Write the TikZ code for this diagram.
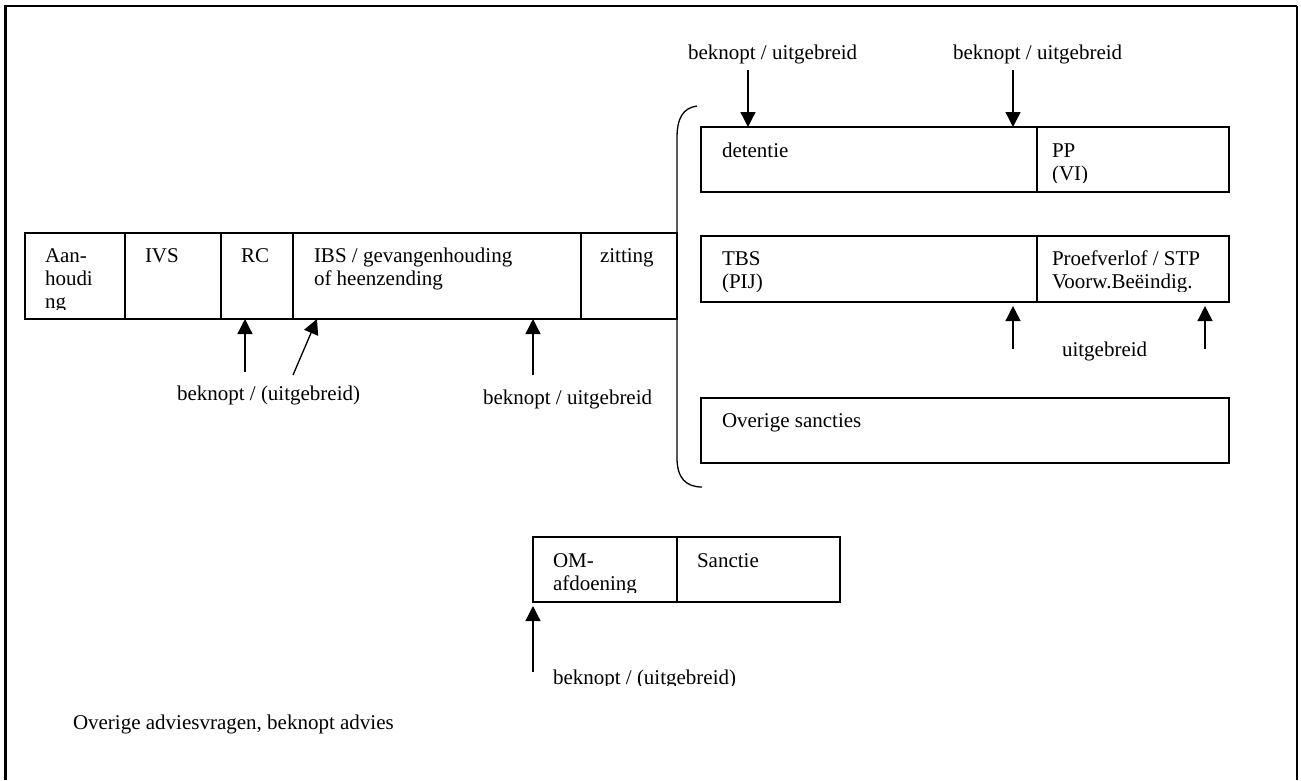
\documentclass[tikz,border=0pt]{standalone}
\usepackage{fontspec}
\setmainfont{Liberation Serif}
\usetikzlibrary{arrows.meta}
\begin{document}
\begin{tikzpicture}[x=1pt,y=-1pt,
  cell/.style={draw, line width=1.3pt, inner sep=0pt, outer sep=0pt, anchor=north west},
  txt/.style={anchor=base west, inner sep=0pt, outer sep=0pt, font=\fontsize{21}{23}\selectfont},
  arr/.style={line width=1.3pt, -{Triangle[length=15pt,width=15pt]}},
  brace/.style={line width=1.3pt},
  frame/.style={line width=2.5pt},
]
\useasboundingbox (0,0) rectangle (1301,780);
\fill[white] (0,0) rectangle (1301,780);
% outer frame
\draw[frame] (5.5,780) -- (5.5,6) -- (1297,6);
\draw[line width=1.6pt] (1297,6) -- (1297,780);

% main row
\node[cell, minimum width=100pt, minimum height=86pt] (aan) at (25,233) {};
\node[cell, minimum width=96pt, minimum height=86pt] (ivs) at (125,233) {};
\node[cell, minimum width=72pt, minimum height=86pt] (rc) at (221,233) {};
\node[cell, minimum width=288pt, minimum height=86pt] (ibs) at (293,233) {};
\node[cell, minimum width=96pt, minimum height=86pt] (zit) at (581,233) {};

\node[txt] (aan1) at (45,262) {Aan-};
\node[txt] (aan2) at (45,285) {houdi};
\begin{scope}
  \clip (25,233) rectangle (125,309);
  \node[txt] (aan3) at (45,308) {ng};
\end{scope}
\node[txt] (ivst) at (145,262) {IVS};
\node[txt] (rct) at (241,262) {RC};
\node[txt] (ibs1) at (314,262) {IBS / gevangenhouding};
\node[txt] (ibs2) at (314,285) {of heenzending};
\node[txt] (zitt) at (600,262) {zitting};

% brace
\draw[brace] (697,106) .. controls (683,108) and (677,118) .. (677,138) -- (677,458) .. controls (677,478) and (686,487) .. (702,487);

% right boxes
\node[cell, minimum width=336pt, minimum height=65pt] (det) at (701,127) {};
\node[cell, minimum width=192pt, minimum height=65pt] (pp) at (1037,127) {};
\node[cell, minimum width=336pt, minimum height=66pt] (tbs) at (701,236) {};
\node[cell, minimum width=192pt, minimum height=66pt] (proef) at (1037,236) {};
\node[cell, minimum width=528pt, minimum height=65pt] (ovs) at (701,398) {};

\node[txt] (dett) at (722,157) {detentie};
\node[txt] (pp1) at (1052,157) {PP};
\begin{scope}
  \clip (1037,127) rectangle (1229,182);
  \node[txt] (pp2) at (1052,180) {(VI)};
\end{scope}
\node[txt] (tbs1) at (722,265) {TBS};
\node[txt] (pr1) at (1052,265) {Proefverlof / STP};
\begin{scope}
  \clip (701,236) rectangle (1229,291);
  \node[txt] (tbs2) at (722,288) {(PIJ)};
  \node[txt] (pr2) at (1052,288) {Voorw.Beëindig.};
\end{scope}
\node[txt] (ovst) at (722,427) {Overige sancties};

% top labels and arrows
\node[txt] (topA) at (688,59) {beknopt / uitgebreid};
\node[txt] (topB) at (953,59) {beknopt / uitgebreid};
\coordinate (ta) at (748,70);
\coordinate (tb) at (1013,70);
\draw[arr] (ta) -- ([xshift=47pt]det.north west);
\draw[arr] (tb) -- ([xshift=312pt]det.north west);

% arrows under TBS row
\coordinate (ua) at (1013,349);
\coordinate (ub) at (1205,349);
\draw[arr] (ua) -- ([xshift=312pt,yshift=-4pt]tbs.south west);
\draw[arr] (ub) -- ([xshift=168pt,yshift=-4pt]proef.south west);
\node[txt] (uitg) at (1062,356) {uitgebreid};

% arrows under main row
\coordinate (m1) at (245,372);
\coordinate (m2) at (293,375);
\coordinate (m3) at (533,375);
\draw[arr] (m1) -- ([xshift=24pt]rc.south west);
\draw[arr] (m2) -- ([xshift=24pt]ibs.south west);
\draw[arr] (m3) -- ([xshift=240pt]ibs.south west);
\node[txt] (lab1) at (177,400) {beknopt / (uitgebreid)};
\node[txt] (lab2) at (483,404) {beknopt / uitgebreid};

% OM row
\node[cell, minimum width=144pt, minimum height=65pt] (om) at (533,537) {};
\node[cell, minimum width=163pt, minimum height=65pt] (sanc) at (677,537) {};
\node[txt] (om1) at (553,567) {OM-};
\begin{scope}
  \clip (533,537) rectangle (677,592);
  \node[txt] (om2) at (553,590) {afdoening};
\end{scope}
\node[txt] (sanct) at (697,567) {Sanctie};
\coordinate (mo) at (533,672);
\draw[arr] (mo) -- ([yshift=-4pt]om.south west);
\begin{scope}
  \clip (540,650) rectangle (800,685);
  \node[txt] (labom) at (553,684) {beknopt / (uitgebreid)};
\end{scope}

\node[txt] (overig) at (73,729) {Overige adviesvragen, beknopt advies};
\end{tikzpicture}
\end{document}
